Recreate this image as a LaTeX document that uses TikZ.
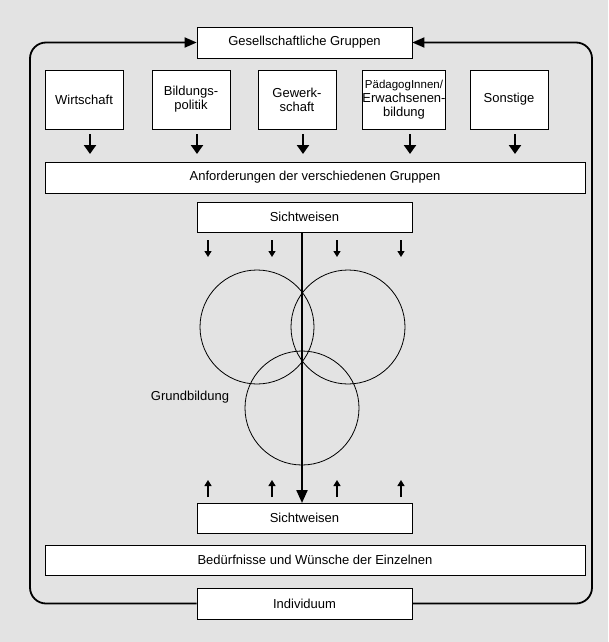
\documentclass[tikz,border=0pt]{standalone}
\usepackage{fontspec}
\setmainfont{Liberation Sans}
\usetikzlibrary{arrows.meta}
\begin{document}
\begin{tikzpicture}[x=1pt,y=-1pt,
 box/.style={draw,fill=white,line width=0.7pt,inner sep=0pt,font=\fontsize{13}{14}\selectfont},
 thick arr/.style={line width=2.6pt,-{Triangle[length=9pt,width=12pt]}},
 small arr/.style={line width=1.4pt,-{Triangle[length=6pt,width=7pt]}},
 loop/.style={line width=1.8pt,-{Triangle[length=12pt,width=10pt]}}]
\fill[gray!22] (0,0) rectangle (608,642);
\useasboundingbox (0,0) rectangle (608,642);
\node[box,minimum width=215pt,minimum height=31pt] (gg) at (304.5,42.5) {Gesellschaftliche Gruppen};
\node[box,minimum width=215pt,minimum height=31pt] (ind) at (304.5,603.5) {Individuum};
\coordinate (tl) at (30,42.5); \coordinate (tr) at (592,42.5);
\coordinate (bl) at (30,603.5); \coordinate (br) at (592,603.5);
\draw[loop,rounded corners=16pt] (ind.west) -- (bl) -- (tl) -- (gg.west);
\draw[loop,rounded corners=16pt] (ind.east) -- (br) -- (tr) -- (gg.east);
\foreach \n/\x/\t in {a/84/Wirtschaft,b/191/{Bildungs-\\politik},c/297/{Gewerk-\\schaft},d/404/{\fontsize{11.5}{11.5}\selectfont PädagogInnen/\\Erwachsenen-\\bildung},e/509/Sonstige}{
 \node[box,minimum width=78pt,minimum height=59pt,align=center] (\n) at (\x,99.5) {\t};
 \coordinate (\n t) at (\x+6,134); \coordinate (\n b) at (\x+6,154);
 \draw[thick arr] (\n t) -- (\n b);}
\node[box,minimum width=540pt,minimum height=31pt] (anf) at (315,177.5) {Anforderungen der verschiedenen Gruppen};
\node[box,minimum width=215pt,minimum height=30pt] (s1) at (304.5,217) {Sichtweisen};
\node[box,minimum width=215pt,minimum height=30pt] (s2) at (304.5,518) {Sichtweisen};
\node[box,minimum width=540pt,minimum height=30pt] (bed) at (315,560) {Bedürfnisse und Wünsche der Einzelnen};
\foreach \x in {208,272,337,401}{
 \coordinate (d\x) at (\x,240); \coordinate (e\x) at (\x,257);
 \draw[small arr] (d\x) -- (e\x);
 \coordinate (u\x) at (\x,497); \coordinate (v\x) at (\x,480);
 \draw[small arr] (u\x) -- (v\x);}
\draw[line width=0.8pt] (257,327) circle (57) (348,327) circle (57) (302,408) circle (57);
\node[font=\fontsize{13}{14}\selectfont] (gb) at (190,397) {Grundbildung};
\coordinate (va) at (302,232); \coordinate (vb) at (302,503);
\draw[line width=2.2pt,-{Triangle[length=13pt,width=11pt]}] (va) -- (vb);
\end{tikzpicture}
\end{document}
